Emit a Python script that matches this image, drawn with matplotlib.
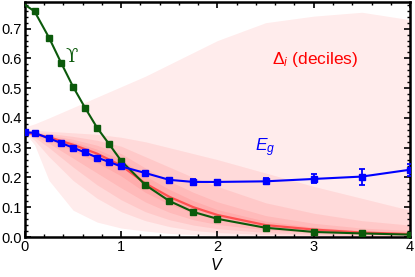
import matplotlib
matplotlib.use("Agg")
import matplotlib.pyplot as plt
import numpy as np

plt.rcParams['font.family'] = ['Liberation Sans', 'DejaVu Sans']
plt.rcParams['mathtext.fontset'] = 'custom'
plt.rcParams['mathtext.rm'] = 'Liberation Sans'
plt.rcParams['mathtext.it'] = 'Liberation Sans:italic'

# ---- data ----
V = [0, 0.1, 0.25, 0.375, 0.5, 0.625, 0.75, 0.875, 1.0, 1.25, 1.5, 1.75, 2.0, 2.5, 3.0, 3.5, 4.0]
upsilon = [0.78, 0.758, 0.67, 0.586, 0.505, 0.434, 0.367, 0.312, 0.256, 0.175, 0.121, 0.084,
           0.061, 0.031, 0.017, 0.012, 0.008]
Eg = [0.352, 0.350, 0.331, 0.316, 0.300, 0.284, 0.267, 0.252, 0.237, 0.215, 0.192, 0.185,
      0.185, 0.187, 0.195, 0.203, 0.226]
Eg_err = [0.002, 0.002, 0.002, 0.002, 0.002, 0.002, 0.002, 0.002, 0.002, 0.003, 0.005, 0.010,
          0.006, 0.010, 0.015, 0.027, 0.020]

Vd = [0, 0.1, 0.25, 0.5, 0.75, 1.0, 1.25, 1.5, 1.75, 2.0, 2.5, 3.0, 3.5, 4.0]
d0 = [0.350, 0.31, 0.19, 0.09, 0.05, 0.030, 0.020, 0.012, 0.008, 0.005, 0.003, 0.002, 0.002, 0.002]
d1 = [0.350, 0.325, 0.27, 0.19, 0.13, 0.085, 0.055, 0.035, 0.022, 0.015, 0.008, 0.005, 0.004, 0.003]
d2 = [0.350, 0.335, 0.30, 0.235, 0.175, 0.125, 0.085, 0.058, 0.040, 0.028, 0.015, 0.009, 0.006, 0.005]
d3 = [0.350, 0.340, 0.315, 0.265, 0.215, 0.165, 0.118, 0.083, 0.058, 0.042, 0.024, 0.014, 0.009, 0.007]
d4 = [0.350, 0.343, 0.325, 0.29, 0.25, 0.205, 0.150, 0.110, 0.080, 0.058, 0.032, 0.019, 0.012, 0.008]
d5 = [0.350, 0.346, 0.335, 0.31, 0.28, 0.240, 0.180, 0.135, 0.100, 0.074, 0.040, 0.025, 0.015, 0.010]
d6 = [0.351, 0.348, 0.340, 0.32, 0.295, 0.260, 0.205, 0.160, 0.122, 0.092, 0.053, 0.033, 0.021, 0.014]
d7 = [0.353, 0.350, 0.343, 0.328, 0.308, 0.280, 0.232, 0.188, 0.150, 0.118, 0.072, 0.046, 0.030, 0.022]
d8 = [0.356, 0.353, 0.348, 0.338, 0.325, 0.305, 0.270, 0.235, 0.200, 0.170, 0.115, 0.080, 0.055, 0.040]
d9 = [0.360, 0.358, 0.355, 0.350, 0.345, 0.335, 0.320, 0.300, 0.280, 0.260, 0.215, 0.170, 0.130, 0.090]
d10 = [0.370, 0.38, 0.40, 0.435, 0.47, 0.505, 0.540, 0.580, 0.620, 0.660, 0.720, 0.742, 0.755, 0.730]

xticks = [0, 1, 2, 3, 4]
yticks = [0.0, 0.1, 0.2, 0.3, 0.4, 0.5, 0.6, 0.7]

# ---- figure ----
fig = plt.figure(figsize=(4.15, 2.77), dpi=100)
ax = fig.add_axes([0.060, 0.1444, 0.928, 0.849])

deciles = [d0, d1, d2, d3, d4, d5, d6, d7, d8, d9, d10]
for k in range(5):
    ax.fill_between(Vd, deciles[k], deciles[10 - k], color='red', alpha=0.075, lw=0, zorder=1)
ax.plot(Vd, d5, color='#ff4040', lw=1.6, alpha=0.85, zorder=2)

ax.plot(V, upsilon, color='#0b5a0b', lw=1.5, marker='s', ms=4.5, markevery=list(range(1, len(V))),
        zorder=4)
ax.errorbar(V, Eg, yerr=Eg_err, color='#0000ff', lw=1.5, marker='s', ms=3.8,
            capsize=2.2, elinewidth=1.3, capthick=1.3, zorder=5)

ax.text(0.49, 0.606, '\u03d2', color='#0b5a0b', fontsize=13, ha='center', va='center',
        family=['DejaVu Serif', 'DejaVu Sans'])
ax.text(3.01, 0.596, r'$\Delta_i$ (deciles)', color='red', fontsize=12.5, ha='center', va='center')
ax.text(2.5, 0.30, r'$E_g$', color='#0000ff', fontsize=12.5, ha='center', va='center')

ax.set_xlim(0, 4)
ax.set_ylim(0, 0.79)
ax.set_xticks(xticks)
ax.set_yticks(yticks)
ax.set_xticklabels([str(t) for t in xticks])
ax.set_yticklabels([f'{t:.1f}' for t in yticks])
ax.set_xticks(np.arange(0, 4.01, 0.2), minor=True)
ax.set_yticks(np.arange(0, 0.79, 0.02), minor=True)
ax.tick_params(which='both', direction='in', top=True, right=True, labelsize=10.5, pad=2)
ax.tick_params(which='major', length=4, width=1.2)
ax.tick_params(which='minor', length=2, width=1.0)
for s in ax.spines.values():
    s.set_linewidth(1.8)
ax.set_xlabel(r'$V$', fontsize=11.5, labelpad=2)

fig.savefig('out.png', dpi=100)
